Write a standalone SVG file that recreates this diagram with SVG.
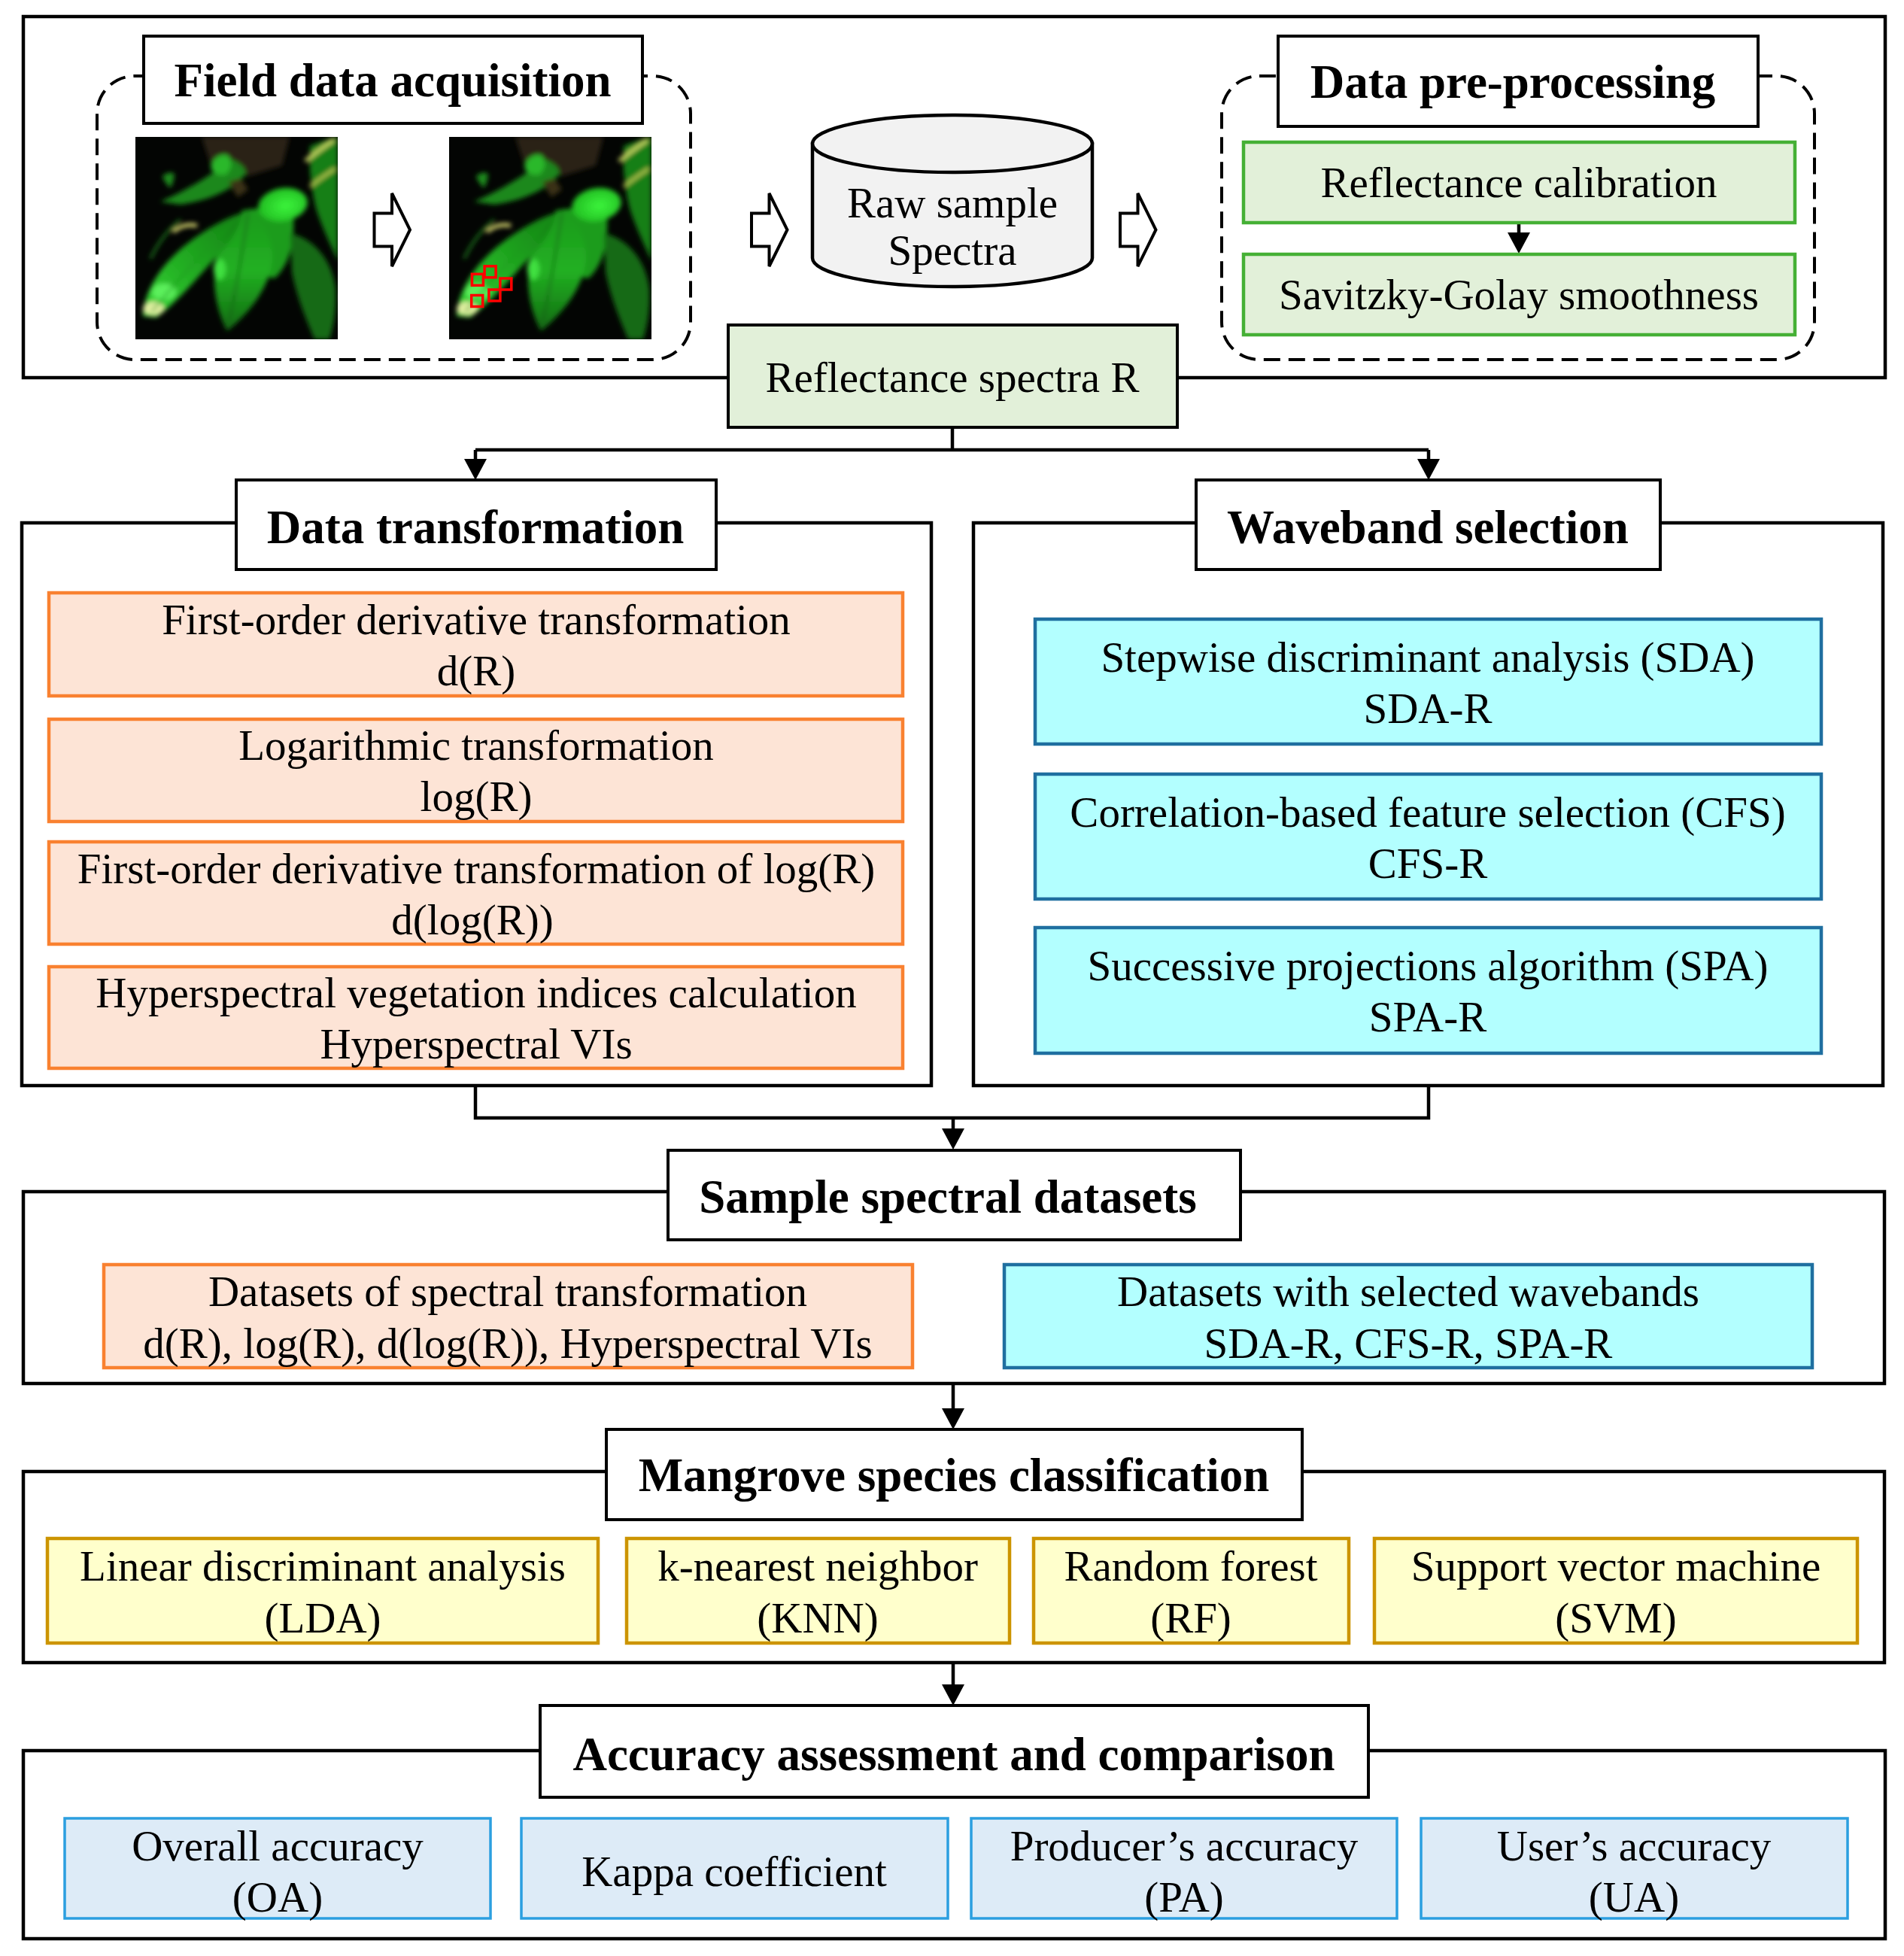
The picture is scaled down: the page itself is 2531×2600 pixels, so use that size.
<svg xmlns="http://www.w3.org/2000/svg" width="2531" height="2600" viewBox="0 0 2531 2600">
<style>
.t{font-family:"Liberation Serif","Times New Roman",serif;font-size:57px;text-anchor:middle;fill:#000}
.h{font-family:"Liberation Serif","Times New Roman",serif;font-size:63px;font-weight:bold;text-anchor:middle;fill:#000}
.frame{fill:none;stroke:#000;stroke-width:4.5}
.title{fill:#fff;stroke:#000;stroke-width:4}
.dash{fill:none;stroke:#000;stroke-width:4;stroke-dasharray:22 11}
.green{fill:#e2f0d9;stroke:#45b035;stroke-width:4.5}
.rspec{fill:#e2f0d9;stroke:#000;stroke-width:4}
.orange{fill:#fde4d6;stroke:#f98130;stroke-width:4.5}
.cyan{fill:#b3ffff;stroke:#1f6fa0;stroke-width:4.5}
.yellow{fill:#ffffcc;stroke:#cc9400;stroke-width:4.5}
.blue{fill:#ddebf7;stroke:#2b9fe0;stroke-width:3.5}
.conn{fill:none;stroke:#000;stroke-width:4.5}
.barrow{fill:#fff;stroke:#000;stroke-width:4;stroke-linejoin:miter}
</style>
<defs>
<marker id="ah" viewBox="0 0 28 30" refX="0" refY="15" markerWidth="28" markerHeight="30" markerUnits="userSpaceOnUse" orient="auto">
<path d="M0,0 L28,15 L0,30 Z" fill="#000"/>
</marker>
<path id="blockarrow" d="M0,26.5 H23.5 V0 L47.5,48.5 L23.5,97 V70.5 H0 Z"/>
<clipPath id="imgclip"><rect width="269" height="269"/></clipPath>
<filter id="soft" x="-20%" y="-20%" width="140%" height="140%"><feGaussianBlur stdDeviation="3.2"/></filter>
<linearGradient id="leafgrad" x1="0" y1="1" x2="1" y2="0">
<stop offset="0" stop-color="#3ad83a"/>
<stop offset="0.45" stop-color="#22ae22"/>
<stop offset="1" stop-color="#137d13"/>
</linearGradient>
<linearGradient id="midgrad" x1="0" y1="0" x2="0" y2="1">
<stop offset="0" stop-color="#1c9a1c"/>
<stop offset="0.5" stop-color="#22b022"/>
<stop offset="1" stop-color="#126a12"/>
</linearGradient>
<radialGradient id="blobgrad" cx="0.55" cy="0.55" r="0.6">
<stop offset="0" stop-color="#3cf53c"/>
<stop offset="1" stop-color="#1fb81f"/>
</radialGradient>
<g id="leafpic">
<rect width="269" height="269" fill="#030503"/>
<g clip-path="url(#imgclip)">
<g filter="url(#soft)">
<path d="M88,0 L205,0 L195,38 L150,52 L100,36 Z" fill="#2a2214"/>
<path d="M232,12 C250,5 262,0 269,0 L269,165 C258,140 248,120 240,95 C234,70 230,40 232,12 Z" fill="#197f19"/>
<path d="M226,32 Q246,16 264,4" stroke="#c9d863" stroke-width="5" fill="none"/>
<path d="M232,66 Q250,52 266,42" stroke="#b4c850" stroke-width="4" fill="none"/>
<path d="M33,86 C60,75 95,55 128,30 C140,35 148,42 146,50 C130,70 100,84 60,90 Z" fill="#1a881a"/>
<path d="M36,52 C42,47 50,46 52,50 C51,58 49,64 46,68 C41,62 37,57 36,52 Z" fill="#1e8a1e"/>
<path d="M100,40 C103,28 112,22 122,24 C130,30 128,44 120,50 C110,52 102,48 100,40 Z" fill="#29b829"/>
<path d="M124,60 L140,55 L150,70 L136,80 Z" fill="#3a3018"/>
<path d="M141,98 C170,92 200,95 210,100 C212,140 205,170 185,188 C165,185 150,175 145,150 Z" fill="#1f9c1f"/>
<ellipse cx="196" cy="90" rx="33" ry="22" fill="url(#blobgrad)" transform="rotate(-10 196 90)"/>
<path d="M206,128 C235,135 260,160 266,200 C268,235 262,255 258,269 L238,269 C228,245 215,215 208,180 Z" fill="#136a13"/>
<path d="M122,258 C104,225 100,180 112,150 C122,125 138,105 150,98 C168,110 182,135 182,160 C180,200 150,235 122,258 Z" fill="url(#midgrad)"/>
<ellipse cx="112" cy="176" rx="8" ry="14" fill="#40e040"/>
<path d="M10,238 C12,200 40,160 85,130 C110,113 130,104 142,101 C138,125 120,150 100,168 C80,190 55,220 28,240 Z" fill="url(#leafgrad)"/>
<ellipse cx="38" cy="206" rx="16" ry="11" fill="#5cf05c"/>
<ellipse cx="24" cy="228" rx="14" ry="9" fill="#e0eea0"/>
<path d="M50,126 Q65,114 82,118" stroke="#d8d870" stroke-width="5" fill="none"/>
<path d="M20,162 Q35,130 60,110" stroke="#1f7f1f" stroke-width="3" fill="none"/>
<path d="M150,100 Q140,170 124,250" stroke="#0f5a0f" stroke-width="2" fill="none"/>
<path d="M140,104 Q90,150 22,232" stroke="#1a9a1a" stroke-width="2" fill="none"/>
</g>
</g>
</g>
</defs>

<g id="frames">
<rect class="frame" x="31" y="22" width="2475" height="480"/>
<rect class="frame" x="29" y="695" width="1209" height="748"/>
<rect class="frame" x="1294" y="695" width="1209" height="748"/>
<rect class="frame" x="31" y="1584" width="2474" height="255"/>
<rect class="frame" x="31" y="1956" width="2474" height="254"/>
<rect class="frame" x="31" y="2327" width="2475" height="250"/>
</g>

<g id="connectors">
<path class="conn" d="M1266,568 V598 M632,598 H1899"/>
<path class="conn" d="M632,598 V610" marker-end="url(#ah)"/>
<path class="conn" d="M1899,598 V610" marker-end="url(#ah)"/>
<path class="conn" d="M2019,296 V309" marker-end="url(#ah)"/>
<path class="conn" d="M632,1443 V1486 H1899 V1443"/>
<path class="conn" d="M1267,1486 V1500" marker-end="url(#ah)"/>
<path class="conn" d="M1267,1839 V1872" marker-end="url(#ah)"/>
<path class="conn" d="M1267,2210 V2239" marker-end="url(#ah)"/>
<use href="#blockarrow" class="barrow" x="497.5" y="257"/>
<use href="#blockarrow" class="barrow" x="999" y="257"/>
<use href="#blockarrow" class="barrow" x="1489" y="257"/>
</g>

<g id="field-data-acquisition">
<rect class="dash" x="129" y="101" width="789" height="377" rx="50"/>
<rect class="title" x="191" y="48" width="663" height="116"/>
<text class="h" x="522" y="128">Field data acquisition</text>
<use href="#leafpic" x="180" y="182"/>
<use href="#leafpic" x="597" y="182"/>
<g fill="none" stroke="#ff0000" stroke-width="3.5">
<rect x="627.4" y="364.3" width="15" height="15"/>
<rect x="644.1" y="353.8" width="15" height="15"/>
<rect x="664.8" y="370" width="15" height="15"/>
<rect x="649.9" y="385" width="15" height="15"/>
<rect x="626.7" y="392.5" width="15" height="15"/>
</g>
</g>

<g id="raw-sample-spectra">
<path d="M1080,191 V343 A186,38 0 0 0 1452,343 V191 Z" fill="#f2f2f2" stroke="#000" stroke-width="4.5"/>
<ellipse cx="1266" cy="191" rx="186" ry="38" fill="#f2f2f2" stroke="#000" stroke-width="4.5"/>
<text class="t" x="1266" y="289">Raw sample</text>
<text class="t" x="1266" y="352">Spectra</text>
</g>

<g id="data-pre-processing">
<rect class="dash" x="1624" y="101" width="788" height="377" rx="50"/>
<rect class="title" x="1699" y="48" width="638" height="120"/>
<text class="h" x="2011" y="130">Data pre-processing</text>
</g>

<g id="reflectance-calibration">
<rect class="green" x="1653" y="189" width="733" height="107"/>
<text class="t" x="2019" y="262">Reflectance calibration</text>
</g>

<g id="savitzky-golay">
<rect class="green" x="1653" y="338" width="733" height="107"/>
<text class="t" x="2019" y="411">Savitzky-Golay smoothness</text>
</g>

<g id="reflectance-spectra">
<rect class="rspec" x="968" y="432" width="597" height="136"/>
<text class="t" x="1266" y="521">Reflectance spectra R</text>
</g>

<g id="data-transformation">
<rect class="title" x="314" y="638" width="638" height="119"/>
<text class="h" x="632" y="722">Data transformation</text>
</g>
<g id="dt-first-derivative">
<rect class="orange" x="65" y="788" width="1135" height="137"/>
<text class="t" x="633" y="843">First-order derivative transformation</text>
<text class="t" x="633" y="911">d(R)</text>
</g>
<g id="dt-log">
<rect class="orange" x="65" y="956" width="1135" height="136"/>
<text class="t" x="633" y="1010">Logarithmic transformation</text>
<text class="t" x="633" y="1078">log(R)</text>
</g>
<g id="dt-dlog">
<rect class="orange" x="65" y="1119" width="1135" height="136"/>
<text class="t" x="633" y="1174">First-order derivative transformation of log(R)</text>
<text class="t" x="628" y="1242">d(log(R))</text>
</g>
<g id="dt-vis">
<rect class="orange" x="65" y="1285" width="1135" height="135"/>
<text class="t" x="633" y="1339">Hyperspectral vegetation indices calculation</text>
<text class="t" x="633" y="1407">Hyperspectral VIs</text>
</g>

<g id="waveband-selection">
<rect class="title" x="1590" y="638" width="617" height="119"/>
<text class="h" x="1898" y="722">Waveband selection</text>
</g>
<g id="ws-sda">
<rect class="cyan" x="1376" y="823" width="1045" height="166"/>
<text class="t" x="1898" y="893">Stepwise discriminant analysis (SDA)</text>
<text class="t" x="1898" y="961">SDA-R</text>
</g>
<g id="ws-cfs">
<rect class="cyan" x="1376" y="1029" width="1045" height="166"/>
<text class="t" x="1898" y="1099">Correlation-based feature selection (CFS)</text>
<text class="t" x="1898" y="1167">CFS-R</text>
</g>
<g id="ws-spa">
<rect class="cyan" x="1376" y="1233" width="1045" height="167"/>
<text class="t" x="1898" y="1303">Successive projections algorithm (SPA)</text>
<text class="t" x="1898" y="1371">SPA-R</text>
</g>

<g id="sample-spectral-datasets">
<rect class="title" x="888" y="1529" width="761" height="119"/>
<text class="h" x="1260" y="1612">Sample spectral datasets</text>
</g>
<g id="ds-transformation">
<rect class="orange" x="138" y="1681" width="1075" height="137"/>
<text class="t" x="675" y="1736">Datasets of spectral transformation</text>
<text class="t" x="675" y="1805">d(R), log(R), d(log(R)), Hyperspectral VIs</text>
</g>
<g id="ds-wavebands">
<rect class="cyan" x="1335" y="1681" width="1074" height="137"/>
<text class="t" x="1872" y="1736">Datasets with selected wavebands</text>
<text class="t" x="1872" y="1805">SDA-R, CFS-R, SPA-R</text>
</g>

<g id="mangrove-classification">
<rect class="title" x="806" y="1900" width="925" height="120"/>
<text class="h" x="1268" y="1982">Mangrove species classification</text>
</g>
<g id="cl-lda">
<rect class="yellow" x="63" y="2045" width="732" height="139"/>
<text class="t" x="429" y="2101">Linear discriminant analysis</text>
<text class="t" x="429" y="2170">(LDA)</text>
</g>
<g id="cl-knn">
<rect class="yellow" x="833" y="2045" width="509" height="139"/>
<text class="t" x="1087" y="2101">k-nearest neighbor</text>
<text class="t" x="1087" y="2170">(KNN)</text>
</g>
<g id="cl-rf">
<rect class="yellow" x="1374" y="2045" width="419" height="139"/>
<text class="t" x="1583" y="2101">Random forest</text>
<text class="t" x="1583" y="2170">(RF)</text>
</g>
<g id="cl-svm">
<rect class="yellow" x="1827" y="2045" width="642" height="139"/>
<text class="t" x="2148" y="2101">Support vector machine</text>
<text class="t" x="2148" y="2170">(SVM)</text>
</g>

<g id="accuracy-assessment">
<rect class="title" x="718" y="2267" width="1101" height="122"/>
<text class="h" x="1268" y="2353">Accuracy assessment and comparison</text>
</g>
<g id="acc-oa">
<rect class="blue" x="86" y="2417" width="566" height="133"/>
<text class="t" x="369" y="2473">Overall accuracy</text>
<text class="t" x="369" y="2541">(OA)</text>
</g>
<g id="acc-kappa">
<rect class="blue" x="693" y="2417" width="567" height="133"/>
<text class="t" x="976" y="2507">Kappa coefficient</text>
</g>
<g id="acc-pa">
<rect class="blue" x="1291" y="2417" width="566" height="133"/>
<text class="t" x="1574" y="2473">Producer’s accuracy</text>
<text class="t" x="1574" y="2541">(PA)</text>
</g>
<g id="acc-ua">
<rect class="blue" x="1889" y="2417" width="567" height="133"/>
<text class="t" x="2172" y="2473">User’s accuracy</text>
<text class="t" x="2172" y="2541">(UA)</text>
</g>
</svg>
